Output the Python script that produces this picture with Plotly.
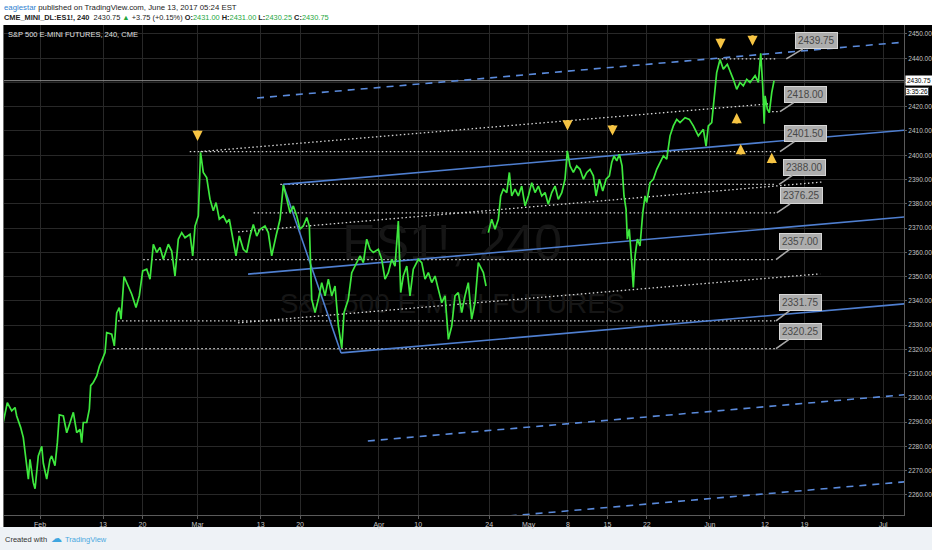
import plotly.graph_objects as go

# ---------------- data (x = trading-day index, Feb 1 2017 = 0) ----------------
seg1_days = [-4.66,-4.15,-3.59,-3.17,-2.96,-2.45,-2.12,-1.69,-1.48,-1.27,
             -0.85,-0.63,-0.22,0.22,0.42,0.85,1.27,1.48,1.90,2.20,
             2.45,2.96,3.39,3.81,4.23,4.66,5.08,5.29,5.49,5.93,
             6.26,6.43,6.76,7.20,7.53,7.83,8.25,8.46,9.10,9.43,
             9.73,10.06,10.28,10.66,11.21,11.64,12.18,12.60,13.03,13.54,
             13.96,14.38,14.81,15.23,15.65,16.28,16.71,17.13,17.55,17.98,
             18.40,19.04,19.38,19.67,20.09,20.37,20.72,21.15,21.57,21.99,
             22.34,22.75,23.26,23.69,24.02,24.45,24.87,25.29,25.80,26.23,
             26.65,27.07,27.50,27.92,28.55,28.97,29.40,29.95,30.46,30.88,
             31.31,31.73,32.14,32.58,32.99,33.41,33.85,34.18,34.48,34.90,
             35.32,35.75,36.17,36.59,37.02,37.44,37.86,38.29,38.58,39.12,
             39.56,39.97,40.61,41.03,41.46,41.88,42.30,42.93,43.36,43.78,
             44.20,44.63,45.05,45.47,45.77,46.10,46.54,46.95,47.37,48.01,
             48.44,48.86,49.28,49.71,50.13,50.55,50.98,51.40,51.82,52.25,
             52.66,53.08,53.52,53.93,54.35,54.78,55.20,55.62,56.26,56.60]
seg1_price = [2290,2298,2294.6,2296,2292.5,2287.7,2283.6,2273,2266.4,2274.6,
              2265,2262.5,2276,2280,2273,2266.5,2274.6,2276,2272,2281.5,
              2293,2292.5,2285.6,2289.8,2294,2285.6,2287,2281.5,2289.8,2289.8,
              2295.3,2305,2306.3,2309,2313,2315.2,2318.6,2326.9,2326.2,2321.4,
              2335,2337.2,2332.4,2350,2346,2342.7,2337.2,2342,2352.3,2353,
              2348.9,2363.3,2359.9,2362,2357.1,2363.3,2360.5,2350.2,2365.4,2368.1,
              2366,2367.4,2358.5,2370.8,2375,2401.2,2392.9,2390.8,2381.9,2377.1,
              2380.5,2373.6,2375,2372.3,2373.6,2366.7,2358.5,2366.7,2361.2,2359.9,
              2366.7,2371.5,2366.7,2369.5,2370.8,2368.1,2358.5,2366.7,2373.6,2387.8,
              2381.8,2376.3,2379.1,2375,2369.5,2370.8,2374.3,2370.8,2340.6,2335.1,
              2340.6,2347.5,2342,2348.9,2342,2346.1,2329.6,2320.5,2335.1,2340.6,
              2351.6,2354.3,2358.5,2355.7,2365.4,2361.2,2359.9,2361.2,2357.1,2348.9,
              2351.6,2357.1,2354.3,2372.9,2343.4,2350.2,2354.3,2342,2353,2357.1,
              2355.7,2348.9,2351.6,2347.5,2350.2,2344.7,2339.2,2342,2324.1,2329.6,
              2342,2343.4,2335.1,2342,2347.5,2332.4,2339.2,2355.7,2351.6,2346.1]
seg2_days = [56.89,57.32,57.74,58.16,58.46,58.79,59.23,59.56,59.86,60.28,
             60.70,61.13,61.55,61.97,62.40,62.82,63.24,63.67,64.09,64.50,
             64.94,65.36,65.77,66.21,66.62,66.92,67.26,67.68,68.11,68.53,
             68.95,69.38,69.80,70.22,70.56,70.98,71.41,71.83,72.25,72.55,
             72.84,73.19,73.52,73.86,74.11,74.37,74.53,74.78,75.09,75.29,
             75.51,75.80,76.14,76.49,76.78,76.99,77.41,77.83,78.26,78.68,
             79.10,79.53,79.95,80.37,80.80,81.22,81.85,82.40,82.91,83.54,
             84.18,84.52,84.81,85.24,85.53,85.87,86.29,86.71,87.22,87.65,
             87.98,88.41,88.83,89.25,89.68,90.10,90.74,91.16,91.46,91.71,
             91.90,92.01,92.30,92.55,92.86,93.15]
seg2_price = [2368.1,2373.6,2369.5,2373.6,2383.2,2386,2384.6,2392.9,2383.2,2386,
              2383.2,2387.3,2379.1,2383.2,2388.7,2384.6,2387.3,2383.2,2384.6,2379.8,
              2384.6,2387.3,2381.8,2384.6,2390.1,2401.8,2395.6,2392.9,2395.6,2394.2,
              2390.1,2392.9,2394.2,2391.5,2383.2,2390.1,2385.3,2390.1,2391.5,2397,
              2399.7,2397.7,2400.4,2395.6,2383.2,2377.7,2365.4,2369.5,2355.7,2345.5,
              2358.5,2365.4,2362.6,2376.3,2383.2,2380.5,2388.7,2390.1,2394.2,2397,
              2399.7,2398.4,2408,2412.1,2414.8,2413.5,2415.5,2414.8,2412.1,2408,
              2410.7,2403.8,2412.1,2413.5,2424.5,2434.1,2439.5,2435.5,2437.5,2434.1,
              2431.3,2427.2,2430,2428.6,2431.3,2430,2432.8,2430,2442,2428.6,
              2413,2424.5,2419,2417.6,2425.9,2430.75]

tick_days = [0, 8, 13, 20, 28, 33, 43, 48, 57, 62, 67, 72, 77, 85, 92, 97, 107]
tick_text = ["Feb", "13", "20", "Mar", "13", "20", "Apr", "10", "24", "May",
             "8", "15", "22", "Jun", "12", "19", "Jul"]

level_prices = [2439.75, 2418.00, 2401.50, 2388.00, 2376.25, 2357.00, 2331.75, 2320.25]
level_start_days = [86.0, 92.4, 19.0, 30.5, 27.1, 13.1, 9.9, 9.3]
level_end_days = [93.5, 93.9, 93.6, 93.4, 93.3, 93.3, 93.3, 93.3]
label_point_days = [94.7, 93.9, 93.9, 93.8, 93.5, 93.4, 93.4, 93.4]

dotted_day0 = [20.37, 25.13, 25.13]
dotted_price0 = [2401.5, 2368.4, 2330.9]
dotted_day1 = [92.5, 99.4, 99.0]
dotted_price1 = [2421.2, 2389.0, 2351.1]

channel_day0 = [30.84, 30.84, 26.4, 38.2]
channel_price0 = [2388.0, 2388.0, 2351.0, 2318.5]
channel_day1 = [38.2, 112, 112, 112]
channel_price1 = [2318.5, 2411.0, 2375.2, 2339.4]

dashed_day0 = [27.54, 41.6, 59.6]
dashed_price0 = [2423.6, 2282.2, 2251.3]
dashed_day1 = [112, 112, 112]
dashed_price1 = [2447.3, 2301.9, 2266.0]

arrow_days = [19.99, 66.94, 72.65, 86.36, 90.42, 88.41, 88.92, 92.86]
arrow_prices = [2405.9, 2410.2, 2408.1, 2443.8, 2445.1, 2417.4, 2404.6, 2401.0]
arrow_dirs = ["down", "down", "down", "down", "down", "up", "up", "up"]

last_price = 2430.75
y_tick_vals = list(range(2260, 2451, 10))

# ---------------- figure ----------------
W, H = 932, 550
ML, MR, MT, MB = 4, 28, 25, 35
def px_x(p):
    return (p - ML) / (W - ML - MR)
def px_y(p):
    return (H - MB - p) / (H - MT - MB)

SANS = "Liberation Sans, Arial, sans-serif"

fig = go.Figure()

# watermark
fig.add_trace(go.Scatter(x=[52.3], y=[2361.8], mode="text", text=["ES1!, 240"],
                         textfont=dict(family=SANS, size=50, color="#161616"),
                         hoverinfo="skip", showlegend=False))
fig.add_trace(go.Scatter(x=[52.3], y=[2337.9], mode="text", text=["S&P 500 E-MINI FUTURES"],
                         textfont=dict(family=SANS, size=28, color="#161616"),
                         hoverinfo="skip", showlegend=False))

# last price line
fig.add_trace(go.Scatter(x=[-10, 120], y=[last_price, last_price], mode="lines",
                         line=dict(color="#8c8c8c", width=1), hoverinfo="skip", showlegend=False))

# horizontal dotted levels
for p, s, e in zip(level_prices, level_start_days, level_end_days):
    fig.add_trace(go.Scatter(x=[s, e], y=[p, p], mode="lines",
                             line=dict(color="#d8d8d8", width=1.3, dash="1.5px,2.5px"),
                             hoverinfo="skip", showlegend=False))
# sloped dotted lines
for a, b, c, d in zip(dotted_day0, dotted_price0, dotted_day1, dotted_price1):
    fig.add_trace(go.Scatter(x=[a, c], y=[b, d], mode="lines",
                             line=dict(color="#d8d8d8", width=1.3, dash="1.5px,2.5px"),
                             hoverinfo="skip", showlegend=False))
# blue channel
for a, b, c, d in zip(channel_day0, channel_price0, channel_day1, channel_price1):
    fig.add_trace(go.Scatter(x=[a, c], y=[b, d], mode="lines",
                             line=dict(color="#4f7fd0", width=1.6),
                             hoverinfo="skip", showlegend=False))
# blue dashed
for a, b, c, d in zip(dashed_day0, dashed_price0, dashed_day1, dashed_price1):
    fig.add_trace(go.Scatter(x=[a, c], y=[b, d], mode="lines",
                             line=dict(color="#5b8bdc", width=1.6, dash="7px,6px"),
                             hoverinfo="skip", showlegend=False))

# price series
fig.add_trace(go.Scatter(x=seg1_days + [None] + seg2_days,
                         y=seg1_price + [None] + seg2_price,
                         mode="lines", line=dict(color="#3ee83e", width=1.7),
                         connectgaps=False, hoverinfo="skip", showlegend=False))

annotations = []
# level callouts
label_ax = [30, 26, 26, 25, 25, 24, 24, 24]
label_ay = [-18, -17, -18, -17, -17, -18, -18, -17]
for p, d, ax, ay in zip(level_prices, label_point_days, label_ax, label_ay):
    annotations.append(dict(x=d, y=p, xref="x", yref="y", text=f"{p:.2f}",
                            showarrow=True, arrowhead=0, arrowwidth=1.6, arrowcolor="#a8a8a8",
                            ax=ax, ay=ay, bgcolor="#adadad", bordercolor="#d6d6d6",
                            borderwidth=1, borderpad=2,
                            font=dict(family=SANS, size=10, color="#484848")))
# yellow arrows
for d, p, direc in zip(arrow_days, arrow_prices, arrow_dirs):
    annotations.append(dict(x=d, y=p, xref="x", yref="y", text="", showarrow=True,
                            arrowhead=2, arrowsize=0.85, arrowwidth=2.4, arrowcolor="#f6c443",
                            ax=0, ay=(-12 if direc == "down" else 12)))
# last price tags
annotations.append(dict(x=1.0, y=last_price, xref="paper", yref="y", xanchor="left",
                        xshift=1, text="2430.75", showarrow=False, bgcolor="#ffffff", borderpad=1,
                        font=dict(family=SANS, size=6.5, color="#000000")))
annotations.append(dict(x=1.0, y=last_price, xref="paper", yref="y", xanchor="left",
                        xshift=1, yshift=-11, text="3:35:26", showarrow=False, bgcolor="#ffffff",
                        bordercolor="#444", borderwidth=1, borderpad=0,
                        font=dict(family=SANS, size=6.5, color="#000000")))
# chart title inside
annotations.append(dict(x=px_x(6), y=px_y(34), xref="paper", yref="paper", xanchor="left",
                        yanchor="middle", text="S&P 500 E-MINI FUTURES, 240, CME",
                        showarrow=False, font=dict(family=SANS, size=7.5, color="#e0e0e0")))
# header
annotations.append(dict(x=px_x(2), y=px_y(7), xref="paper", yref="paper", xanchor="left",
                        yanchor="middle", showarrow=False,
                        text="<span style='color:#2f7fd0'>eaglestar</span> published on TradingView.com, June 13, 2017 05:24 EST",
                        font=dict(family=SANS, size=7.8, color="#222222")))
annotations.append(dict(x=px_x(2), y=px_y(17.5), xref="paper", yref="paper", xanchor="left",
                        yanchor="middle", showarrow=False,
                        text=("<b>CME_MINI_DL:ES1!, 240</b>  2430.75 "
                              "<span style='color:#26a641'>▲</span> +3.75 (+0.15%) "
                              "<b>O:</b><span style='color:#26a641'>2431.00</span> "
                              "<b>H:</b><span style='color:#26a641'>2431.00</span> "
                              "<b>L:</b><span style='color:#26a641'>2430.25</span> "
                              "<b>C:</b><span style='color:#26a641'>2430.75</span>"),
                        font=dict(family=SANS, size=7.4, color="#222222")))
# footer
annotations.append(dict(x=px_x(3), y=px_y(539), xref="paper", yref="paper", xanchor="left",
                        yanchor="middle", showarrow=False, text="Created with",
                        font=dict(family=SANS, size=7.5, color="#333333")))
annotations.append(dict(x=px_x(49), y=px_y(538), xref="paper", yref="paper", xanchor="left",
                        yanchor="middle", showarrow=False, text="☁",
                        font=dict(family="DejaVu Sans", size=11, color="#3fa6e0")))
annotations.append(dict(x=px_x(63), y=px_y(539), xref="paper", yref="paper", xanchor="left",
                        yanchor="middle", showarrow=False, text="TradingView",
                        font=dict(family=SANS, size=7.5, color="#4aa8e0")))

shapes = [
    dict(type="rect", xref="paper", yref="paper", x0=px_x(-5), x1=px_x(940),
         y0=px_y(560), y1=px_y(527), fillcolor="#eef2f6", line=dict(width=0), layer="below"),
    dict(type="rect", xref="paper", yref="paper", x0=px_x(3), x1=px_x(940),
         y0=px_y(527), y1=px_y(25), fillcolor="#000000", line=dict(width=0), layer="below"),
    dict(type="line", xref="paper", yref="paper", x0=px_x(3.5), x1=px_x(3.5),
         y0=px_y(527), y1=px_y(25), line=dict(color="#6a6a6a", width=1), layer="below"),
]

fig.update_layout(
    width=W, height=H,
    margin=dict(l=ML, r=MR, t=MT, b=MB, autoexpand=False),
    paper_bgcolor="#ffffff", plot_bgcolor="#000000",
    showlegend=False,
    annotations=annotations, shapes=shapes,
    xaxis=dict(range=[-4.57, 109.64], tickmode="array", tickvals=tick_days, ticktext=tick_text,
               automargin=False,
               showgrid=True, gridcolor="#282828", gridwidth=1, zeroline=False,
               showline=True, linecolor="#5a5a5a", linewidth=1,
               ticks="outside", ticklen=3, tickcolor="#5a5a5a",
               tickfont=dict(family=SANS, size=7, color="#c4c4c4")),
    yaxis=dict(range=[2251.67, 2453.7], side="right", tickmode="array", tickvals=y_tick_vals,
               tickformat=".2f", automargin=False,
               showgrid=True, gridcolor="#282828", gridwidth=1, zeroline=False,
               showline=True, linecolor="#5a5a5a", linewidth=1,
               ticks="outside", ticklen=2, tickcolor="#5a5a5a",
               tickfont=dict(family=SANS, size=6.5, color="#c4c4c4")),
)

fig.write_html("out.html", config={"displayModeBar": False},
               post_script="document.body.style.margin='0';document.body.style.padding='0';")
